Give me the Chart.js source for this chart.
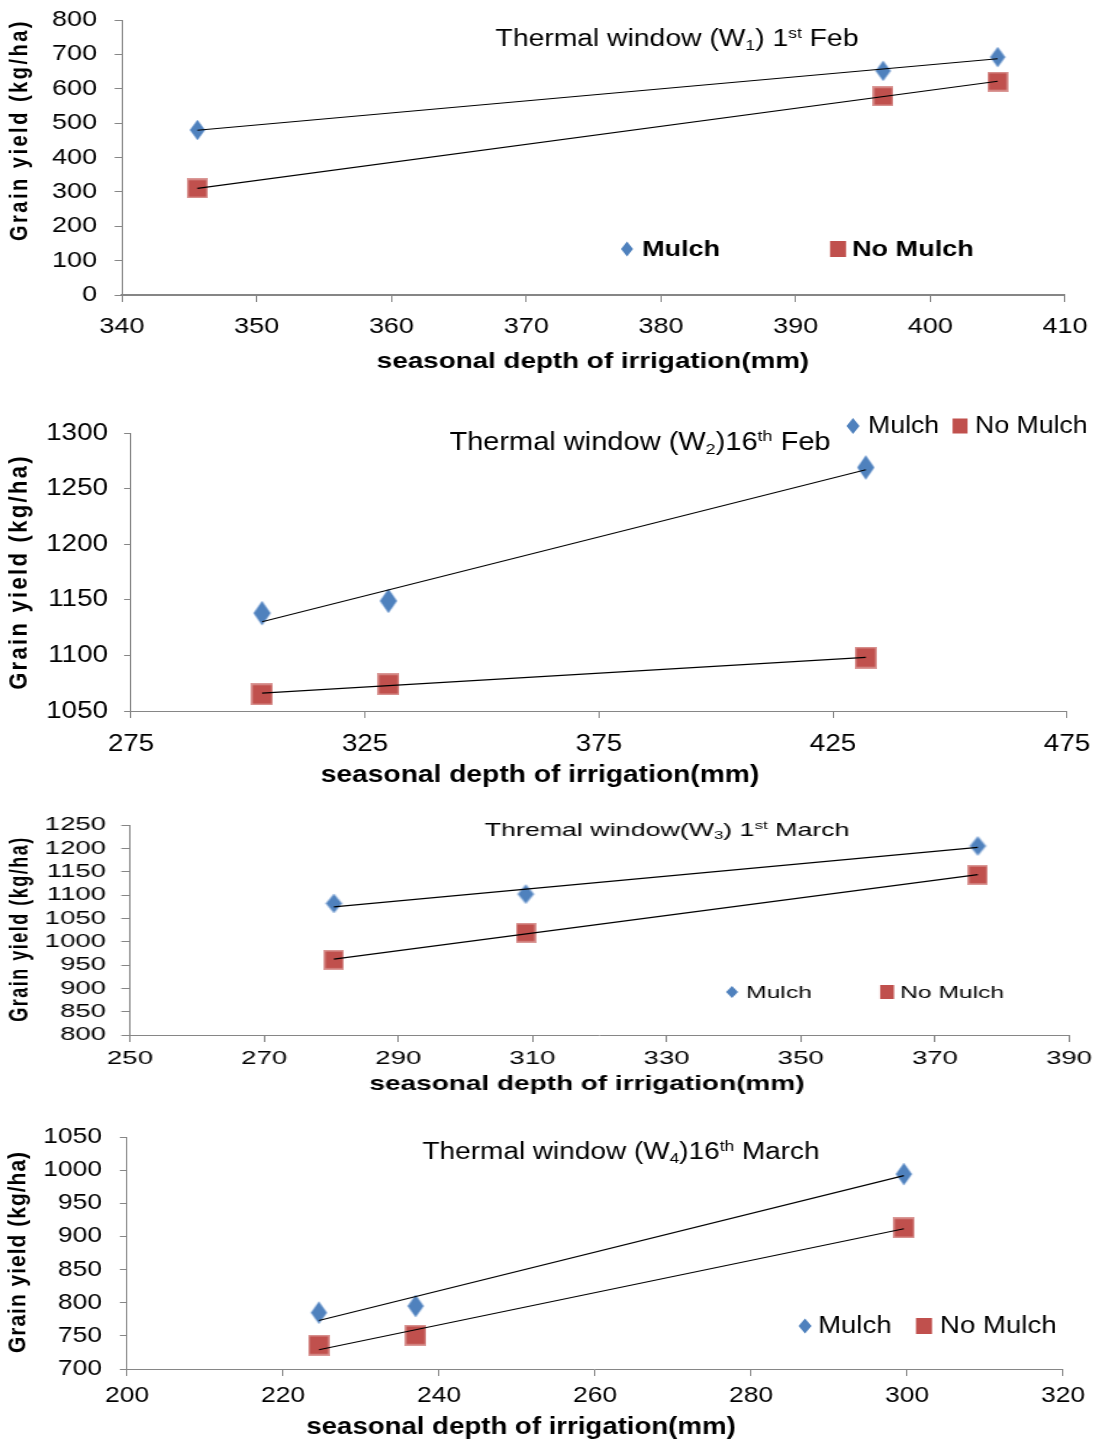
<!DOCTYPE html>
<html>
<head>
<meta charset="utf-8">
<script src="https://cdn.jsdelivr.net/npm/chart.js@4.4.1/dist/chart.umd.min.js"></script>
<style>
html,body{margin:0;padding:0;background:#fff;}
#wrap{position:relative;width:1097px;height:1441px;overflow:hidden;background:#fff;}
.panel{position:absolute;left:0;transform-origin:0 0;}
canvas{display:block;}
</style>
</head>
<body>
<div id="wrap"></div>
<script>
// ---------------- DATA ----------------
const seriesNames = ['Mulch', 'No Mulch'];
const xAxisTitle = 'seasonal depth of irrigation(mm)';
const yAxisTitle = 'Grain yield (kg/ha)';

// W1 – 1st Feb
const w1Irrigation = [345.6, 396.5, 405.0];
const w1Mulch      = [480, 652, 692];
const w1NoMulch    = [310, 578, 621];
const w1XTicks = [340, 350, 360, 370, 380, 390, 400, 410];
const w1YTicks = [0, 100, 200, 300, 400, 500, 600, 700, 800];
const w1Title  = [['Thermal window (W', ''], ['1', 'sub'], [') 1', ''], ['st', 'sup'], [' Feb', '']];

// W2 – 16th Feb
const w2Irrigation = [303, 330, 432];
const w2Mulch      = [1138, 1149, 1269];
const w2NoMulch    = [1065, 1074, 1098];
const w2XTicks = [275, 325, 375, 425, 475];
const w2YTicks = [1050, 1100, 1150, 1200, 1250, 1300];
const w2Title  = [['Thermal window (W', ''], ['2', 'sub'], [')16', ''], ['th', 'sup'], [' Feb', '']];

// W3 – 1st March
const w3Irrigation = [280.4, 309, 376.4];
const w3Mulch      = [1082, 1102, 1205];
const w3NoMulch    = [961, 1019, 1143];
const w3XTicks = [250, 270, 290, 310, 330, 350, 370, 390];
const w3YTicks = [800, 850, 900, 950, 1000, 1050, 1100, 1150, 1200, 1250];
const w3Title  = [['Thremal window(W', ''], ['3', 'sub'], [') 1', ''], ['st', 'sup'], [' March', '']];

// W4 – 16th March
const w4Irrigation = [224.6, 237, 299.6];
const w4Mulch      = [785, 795, 994];
const w4NoMulch    = [736, 751, 913];
const w4XTicks = [200, 220, 240, 260, 280, 300, 320];
const w4YTicks = [700, 750, 800, 850, 900, 950, 1000, 1050];
const w4Title  = [['Thermal window (W', ''], ['4', 'sub'], [')16', ''], ['th', 'sup'], [' March', '']];

// ---------------- STYLE / LAYOUT ----------------
const FONT = '"Liberation Sans", Arial, Helvetica, sans-serif';
const AXIS_COLOR = '#868686';
const MULCH_COLOR = '#4F81BD';
const NOMULCH_COLOR = '#C0504D';

const panels = [
  { x: w1Irrigation, a: w1Mulch, b: w1NoMulch, xt: w1XTicks, yt: w1YTicks, segs: w1Title,
    top: 0, h: 390, s: 1.23, area: {l: 122, r: 1065, t: 20, b: 295},
    tick: 22, xPad: 12, yLabelGap: 25, xBorder: 2,
    title: {cx: 677, cy: 38, size: 23}, xTitle: {cx: 593, cy: 362, size: 22.6},
    yTitle: {cx: 20, cy: 130, size: 20, sp: 2.5},
    legend: {cy: 249, size: 22, bold: true, dx: 627, t1: 642, sx: 838, t2: 852, dw: 12, dh: 15, sq: 16},
    mk: {dw: 15, dh: 20, sq: 20} },
  { x: w2Irrigation, a: w2Mulch, b: w2NoMulch, xt: w2XTicks, yt: w2YTicks, segs: w2Title,
    top: 395, h: 395, s: 1.16, area: {l: 131, r: 1067, t: 433, b: 711},
    tick: 24, xPad: 12, yLabelGap: 23, xBorder: 1,
    title: {cx: 640, cy: 441, size: 25}, xTitle: {cx: 540, cy: 775, size: 24.3},
    yTitle: {cx: 20, cy: 572, size: 22, sp: 2.3},
    legend: {cy: 426, size: 23, bold: false, dx: 853, t1: 868, sx: 960, t2: 975, dw: 13, dh: 16, sq: 15},
    mk: {dw: 17, dh: 24, sq: 22} },
  { x: w3Irrigation, a: w3Mulch, b: w3NoMulch, xt: w3XTicks, yt: w3YTicks, segs: w3Title,
    top: 805, h: 300, s: 1.45, area: {l: 130, r: 1069, t: 825, b: 1035},
    tick: 19, xPad: 5, yLabelGap: 24, xBorder: 1,
    title: {cx: 667, cy: 829, size: 18.5}, xTitle: {cx: 587, cy: 1085, size: 19.3},
    yTitle: {cx: 20, cy: 929, size: 18, sp: 1.5},
    legend: {cy: 992, size: 17, bold: false, dx: 732, t1: 746, sx: 887, t2: 900, dw: 12, dh: 12, sq: 14},
    mk: {dw: 16, dh: 19, sq: 20} },
  { x: w4Irrigation, a: w4Mulch, b: w4NoMulch, xt: w4XTicks, yt: w4YTicks, segs: w4Title,
    top: 1115, h: 326, s: 1.2, area: {l: 127, r: 1063, t: 1137, b: 1369},
    tick: 22, xPad: 7, yLabelGap: 25, xBorder: 1,
    title: {cx: 621, cy: 1151, size: 23.3}, xTitle: {cx: 521, cy: 1428, size: 23},
    yTitle: {cx: 18, cy: 1252, size: 21, sp: 1},
    legend: {cy: 1326, size: 23, bold: false, dx: 805, t1: 818, sx: 924, t2: 940, dw: 13, dh: 15, sq: 16},
    mk: {dw: 16, dh: 22, sq: 21} }
];

// ---------------- HELPERS ----------------
function regressionLine(xs, ys) {
  const n = xs.length;
  const mx = xs.reduce((p, q) => p + q, 0) / n;
  const my = ys.reduce((p, q) => p + q, 0) / n;
  let sxy = 0, sxx = 0;
  for (let i = 0; i < n; i++) { sxy += (xs[i] - mx) * (ys[i] - my); sxx += (xs[i] - mx) ** 2; }
  const slope = sxy / sxx, icpt = my - slope * mx;
  const x0 = Math.min(...xs), x1 = Math.max(...xs);
  return [{x: x0, y: icpt + slope * x0}, {x: x1, y: icpt + slope * x1}];
}

function diamondImg(w, h) {
  const c = document.createElement('canvas');
  c.width = Math.ceil(w) + 2; c.height = Math.ceil(h) + 2;
  const g = c.getContext('2d');
  const cx = c.width / 2, cy = c.height / 2;
  g.beginPath();
  g.moveTo(cx, cy - h / 2); g.lineTo(cx + w / 2, cy); g.lineTo(cx, cy + h / 2); g.lineTo(cx - w / 2, cy);
  g.closePath();
  g.fillStyle = MULCH_COLOR; g.fill();
  g.strokeStyle = 'rgba(140,175,220,0.8)'; g.lineWidth = 0.8; g.stroke();
  return c;
}

function squareImg(w, h, insetX, insetY) {
  const c = document.createElement('canvas');
  c.width = Math.ceil(w); c.height = Math.ceil(h);
  const g = c.getContext('2d');
  g.fillStyle = '#DA9896'; g.fillRect(0, 0, c.width, c.height);
  g.fillStyle = NOMULCH_COLOR; g.fillRect(insetX, insetY, c.width - 2 * insetX, c.height - 2 * insetY);
  return c;
}

function drawRich(ctx, segs, cx, cy, size) {
  const parts = segs.map(([t, k]) => {
    const sz = k ? size * 0.62 : size;
    ctx.font = `${sz}px ${FONT}`;
    return {t, k, sz, w: ctx.measureText(t).width};
  });
  const total = parts.reduce((p, q) => p + q.w, 0);
  let x = cx - total / 2;
  const base = cy + size * 0.36;
  ctx.textAlign = 'left'; ctx.textBaseline = 'alphabetic';
  for (const p of parts) {
    ctx.font = `${p.sz}px ${FONT}`;
    let y = base;
    if (p.k === 'sub') y = base + size * 0.16;
    if (p.k === 'sup') y = base - size * 0.38;
    ctx.fillText(p.t, x, y);
    x += p.w;
  }
}

function annotPlugin(p) {
  return {
    id: 'annot',
    afterDraw(chart) {
      const ctx = chart.ctx, s = p.s, T = p.top;
      const X = v => v / s, Y = v => v - T;
      ctx.save();
      ctx.fillStyle = '#000';
      drawRich(ctx, p.segs, X(p.title.cx), Y(p.title.cy), p.title.size);
      ctx.font = `bold ${p.xTitle.size}px ${FONT}`;
      ctx.textAlign = 'center'; ctx.textBaseline = 'middle';
      ctx.fillText(xAxisTitle, X(p.xTitle.cx), Y(p.xTitle.cy));
      ctx.save();
      ctx.translate(X(p.yTitle.cx), Y(p.yTitle.cy));
      ctx.rotate(-Math.PI / 2);
      ctx.font = `bold ${p.yTitle.size}px ${FONT}`;
      ctx.letterSpacing = p.yTitle.sp + 'px';
      ctx.textAlign = 'center'; ctx.textBaseline = 'middle';
      ctx.fillText(yAxisTitle, 0, 0);
      ctx.letterSpacing = '0px';
      ctx.restore();
      const L = p.legend, ly = Y(L.cy);
      ctx.fillStyle = MULCH_COLOR;
      ctx.beginPath();
      ctx.moveTo(X(L.dx), ly - L.dh / 2); ctx.lineTo(X(L.dx + L.dw / 2), ly);
      ctx.lineTo(X(L.dx), ly + L.dh / 2); ctx.lineTo(X(L.dx - L.dw / 2), ly);
      ctx.closePath(); ctx.fill();
      ctx.fillStyle = NOMULCH_COLOR;
      ctx.fillRect(X(L.sx - L.sq / 2), ly - L.sq / 2, L.sq / s, L.sq);
      ctx.fillStyle = '#000';
      ctx.font = `${L.bold ? 'bold ' : ''}${L.size}px ${FONT}`;
      ctx.textAlign = 'left'; ctx.textBaseline = 'middle';
      ctx.fillText(seriesNames[0], X(L.t1), ly + 1);
      ctx.fillText(seriesNames[1], X(L.t2), ly + 1);
      ctx.restore();
    }
  };
}

function zeroPad(sc) { sc.paddingTop = 0; sc.paddingBottom = 0; sc.paddingLeft = 0; sc.paddingRight = 0; }

// ---------------- BUILD ----------------
const wrap = document.getElementById('wrap');
panels.forEach((p) => {
  const W = Math.round(1097 / p.s);
  const div = document.createElement('div');
  div.className = 'panel';
  div.style.top = p.top + 'px';
  div.style.transform = `scaleX(${p.s})`;
  const cv = document.createElement('canvas');
  cv.width = W; cv.height = p.h;
  cv.style.width = W + 'px'; cv.style.height = p.h + 'px';
  div.appendChild(cv);
  wrap.appendChild(div);

  const diamond = diamondImg(p.mk.dw / p.s, p.mk.dh);
  const square = squareImg(p.mk.sq / p.s, p.mk.sq, 1.6 / p.s, 1.6);
  const tickLenY = 6, tickLenX = 7;

  new Chart(cv, {
    type: 'scatter',
    data: {
      datasets: [
        { label: 'trend ' + seriesNames[0], data: regressionLine(p.x, p.a), showLine: true,
          borderColor: '#000', borderWidth: 1.2, pointRadius: 0, fill: false },
        { label: 'trend ' + seriesNames[1], data: regressionLine(p.x, p.b), showLine: true,
          borderColor: '#000', borderWidth: 1.2, pointRadius: 0, fill: false },
        { label: seriesNames[0], data: p.x.map((v, i) => ({x: v, y: p.a[i]})),
          pointStyle: diamond, pointRadius: 9, showLine: false },
        { label: seriesNames[1], data: p.x.map((v, i) => ({x: v, y: p.b[i]})),
          pointStyle: square, pointRadius: 10, showLine: false }
      ]
    },
    options: {
      responsive: false,
      animation: false,
      devicePixelRatio: 1,
      events: [],
      layout: { autoPadding: false, padding: { left: 0, top: p.area.t - p.top, right: W - p.area.r / p.s, bottom: 0 } },
      plugins: { legend: { display: false }, tooltip: { enabled: false }, title: { display: false } },
      scales: {
        x: {
          type: 'linear', position: 'bottom',
          min: p.xt[0], max: p.xt[p.xt.length - 1],
          afterBuildTicks: (sc) => { sc.ticks = p.xt.map(v => ({value: v})); },
          afterFit: (sc) => { sc.height = (p.top + p.h) - p.area.b; zeroPad(sc); },
          border: { display: true, color: AXIS_COLOR, width: p.xBorder },
          grid: { drawOnChartArea: false, drawTicks: true, tickLength: tickLenX, color: AXIS_COLOR, lineWidth: 1 },
          ticks: { autoSkip: false, maxRotation: 0, color: '#000', padding: p.xPad,
                   callback: (v) => String(v),
                   font: { family: FONT, size: p.tick } }
        },
        y: {
          type: 'linear', position: 'left',
          min: p.yt[0], max: p.yt[p.yt.length - 1],
          afterBuildTicks: (sc) => { sc.ticks = p.yt.map(v => ({value: v})); },
          afterFit: (sc) => { sc.width = p.area.l / p.s; zeroPad(sc); },
          border: { display: true, color: AXIS_COLOR, width: 1 },
          grid: { drawOnChartArea: false, drawTicks: true, tickLength: tickLenY, color: AXIS_COLOR, lineWidth: 1 },
          ticks: { autoSkip: false, color: '#000', padding: p.yLabelGap / p.s - tickLenY,
                   callback: (v) => String(v),
                   font: { family: FONT, size: p.tick } }
        }
      }
    },
    plugins: [annotPlugin(p)]
  });
});
</script>
</body>
</html>
